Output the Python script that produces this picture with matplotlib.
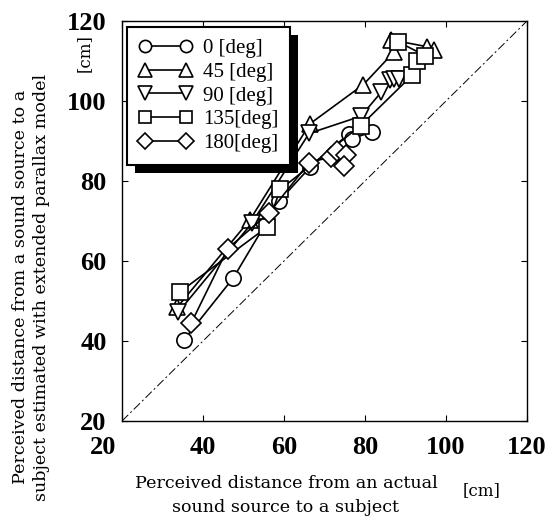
import matplotlib
matplotlib.use("Agg")
import matplotlib.pyplot as plt
from matplotlib.patches import Rectangle
from matplotlib.transforms import IdentityTransform, ScaledTranslation

# values (x: perceived, y: estimated with model) [cm]
x_0 = [35.3, 47.5, 58.8, 66.4, 76.0, 76.8, 81.8]
y_0 = [40.3, 55.8, 75.0, 83.4, 91.8, 90.6, 92.3]

x_45 = [33.6, 51.6, 66.4, 79.6, 87.2, 86.4, 95.2, 97.0]
y_45 = [48.4, 70.3, 94.3, 104.1, 112.3, 115.3, 113.6, 112.8]

x_90 = [33.9, 52.0, 66.2, 79.0, 84.0, 86.2, 87.2, 88.4]
y_90 = [47.2, 69.4, 91.9, 96.2, 102.2, 105.3, 105.4, 105.5]

x_135 = [34.2, 55.7, 59.1, 78.9, 91.6, 92.9, 94.9, 88.2]
y_135 = [52.2, 68.4, 77.9, 93.8, 106.4, 110.0, 111.3, 114.8]

x_180 = [37.1, 46.1, 56.4, 66.2, 71.5, 73.1, 75.4, 74.7]
y_180 = [44.5, 63.1, 72.1, 84.6, 86.0, 87.4, 86.5, 83.8]

labels = ["0 [deg]", "45 [deg]", "90 [deg]", "135[deg]", "180[deg]"]
markers = ["o", "^", "v", "s", "D"]
sizes = [11, 12, 12, 11, 10]
ticks = [20, 40, 60, 80, 100, 120]

SERIF = "Liberation Serif"
TEXTO = "DejaVu Serif"

fig = plt.figure(figsize=(5.58, 5.21), dpi=100)
ax = fig.add_axes([122 / 558, 1 - 421 / 521, 405 / 558, 400 / 521])

# reference line y = x
ax.plot([20, 120], [20, 120], color="k", lw=0.7, ls=(0, (9, 3, 2, 3)), zorder=1)

series = [(x_0, y_0), (x_45, y_45), (x_90, y_90), (x_135, y_135), (x_180, y_180)]
for (xs, ys), lab, m, s in zip(series, labels, markers, sizes):
    ax.plot(xs, ys, color="k", lw=1.2, marker=m, markersize=s, mfc="white",
            mec="k", mew=1.2, label=lab, zorder=3)

ax.set_xlim(20, 120)
ax.set_ylim(20, 120)
ax.set_xticks(ticks)
ax.set_yticks(ticks)
ax.tick_params(direction="in", length=4, width=0.8, top=True, right=True,
               pad=11, labelsize=19)
for t in ax.get_xticklabels() + ax.get_yticklabels():
    t.set_fontfamily(SERIF)
    t.set_fontweight("bold")
# first x label sits a little to the left in the original
lab0 = ax.get_xticklabels()[0]
lab0.set_transform(lab0.get_transform() + ScaledTranslation(-0.19, 0, fig.dpi_scale_trans))
for sp in ax.spines.values():
    sp.set_linewidth(1.0)

leg = ax.legend(loc="upper left", bbox_to_anchor=(0.012, 0.985), borderaxespad=0,
                numpoints=2, handlelength=2.6, handletextpad=0.5, labelspacing=0.2,
                borderpad=0.55, fancybox=False, framealpha=1, edgecolor="k",
                prop={"family": SERIF, "size": 15}, markerscale=0.8)
leg.get_frame().set_linewidth(1.5)
leg.set_zorder(6)

# thick black drop shadow under the legend box
fig.canvas.draw()
bb = leg.get_window_extent()
sombra = Rectangle((bb.x0 + 8, bb.y0 - 8), bb.width, bb.height, transform=IdentityTransform(),
                   facecolor="k", edgecolor="none", zorder=5.9)
ax.add_artist(sombra)
sombra.set_clip_on(False)

fig.text(21 / 558, 1 - 287 / 521, "Perceived distance from a sound source to a",
         rotation=90, ha="center", va="center", family=TEXTO, size=12.6)
fig.text(42 / 558, 1 - 287 / 521, "subject estimated with extended parallax model",
         rotation=90, ha="center", va="center", family=TEXTO, size=12.6)
fig.text(84 / 558, 1 - 53 / 521, "[cm]", rotation=90, ha="center", va="center",
         family=TEXTO, size=12)

fig.text(286 / 558, 1 - 484 / 521, "Perceived distance from an actual",
         ha="center", va="center", family=TEXTO, size=12.6)
fig.text(286 / 558, 1 - 507 / 521, "sound source to a subject",
         ha="center", va="center", family=TEXTO, size=12.6)
fig.text(482 / 558, 1 - 491 / 521, "[cm]", ha="center", va="center",
         family=TEXTO, size=12)

fig.savefig("out.png", dpi=100)
plt.close(fig)
